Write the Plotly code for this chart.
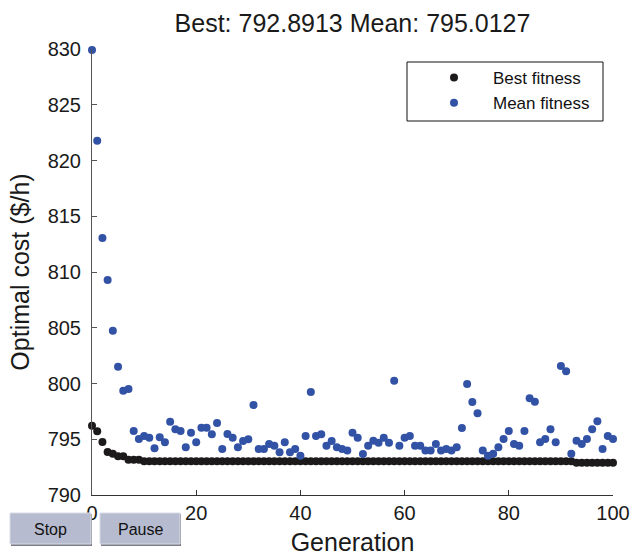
import plotly.graph_objects as go

generations = list(range(0, 101))

best_fitness = (
    [796.22, 795.71, 794.75, 793.86, 793.71, 793.47, 793.47, 793.17, 793.17, 793.17]
    + [793.02] * 83
    + [792.8913] * 8
)

mean_fitness = [
    829.9, 821.78, 813.05, 809.28, 804.74, 801.5, 799.36, 799.5, 795.74, 795.02,
    795.29, 795.14, 794.19, 795.17, 794.72, 796.57, 795.89, 795.74, 794.28, 795.59,
    794.72, 796.04, 796.04, 795.44, 796.46, 794.13, 795.47, 795.14, 794.28, 794.84,
    794.99, 798.07, 794.13, 794.13, 794.57, 794.42, 793.83, 794.72, 793.83, 794.13,
    793.53, 795.29, 799.24, 795.29, 795.44, 794.42, 794.84, 794.28, 794.13, 793.98,
    795.59, 795.14, 793.68, 794.42, 794.87, 794.69, 795.14, 794.69, 800.25, 794.42,
    795.14, 795.29, 794.42, 794.42, 793.98, 793.98, 794.57, 793.98, 794.13, 793.98,
    794.28, 796.01, 799.96, 798.34, 797.33, 793.98, 793.53, 793.71, 794.28, 795.02,
    795.74, 794.57, 794.42, 795.74, 798.67, 798.37, 794.72, 795.02, 795.89, 794.72,
    801.57, 801.09, 793.71, 794.87, 794.57, 795.02, 795.89, 796.61, 794.13, 795.29,
    795.0127,
]

title_text = "Best: 792.8913 Mean: 795.0127"
x_ticks = [0, 20, 40, 60, 80, 100]
y_ticks = [790, 795, 800, 805, 810, 815, 820, 825, 830]

FONT = "Liberation Sans, Arial, Helvetica, sans-serif"
TXT = "#1a1a1a"

W, H = 632, 556
# plot area in page pixels
PL, PR, PT, PB = 92, 613, 49, 495
L, T, R, B = PL, PT, W - PR, H - PB
pw, ph = W - L - R, H - T - B


def px_x(p):
    return (p - PL) / pw


def px_y(p):
    return (PB - p) / ph


fig = go.Figure()
fig.add_trace(go.Scatter(
    x=generations, y=best_fitness, mode="markers", name="Best fitness",
    legendgroup="best",
    marker=dict(color="#1c1a1a", size=8), cliponaxis=False,
))
fig.add_trace(go.Scatter(
    x=generations, y=mean_fitness, mode="markers", name="Mean fitness",
    legendgroup="mean",
    marker=dict(color="#3252a6", size=8), cliponaxis=False,
))

shapes = []
annotations = []

# legend frame
shapes.append(dict(
    type="rect", xref="paper", yref="paper",
    x0=px_x(407), x1=px_x(603), y0=px_y(121), y1=px_y(62),
    fillcolor="white", line=dict(color="#111111", width=1), layer="below",
))

# Stop / Pause buttons (GUI decoration)
buttons = [("Stop", 10, 91), ("Pause", 100, 180)]
for label, x0, x1 in buttons:
    shapes.append(dict(
        type="rect", xref="paper", yref="paper",
        x0=px_x(x0 + 1), x1=px_x(x1 + 1), y0=px_y(546), y1=px_y(514),
        fillcolor="#7c7e88", line=dict(width=0), layer="above",
    ))
    shapes.append(dict(
        type="rect", xref="paper", yref="paper",
        x0=px_x(x0), x1=px_x(x1), y0=px_y(544), y1=px_y(513),
        fillcolor="#b7bbcf", line=dict(color="#d8dae4", width=1), layer="above",
    ))
    annotations.append(dict(
        text=label, xref="paper", yref="paper",
        x=px_x((x0 + x1) / 2), y=px_y(529), showarrow=False,
        font=dict(family=FONT, size=16, color="#111111"),
        xanchor="center", yanchor="middle",
    ))

fig.update_layout(
    width=W, height=H,
    margin=dict(l=L, r=R, t=T, b=B, pad=0, autoexpand=False),
    paper_bgcolor="white", plot_bgcolor="white",
    font=dict(family=FONT, color=TXT),
    title=dict(text=title_text, x=(PL + PR) / 2 / W,
               xanchor="center",
               y=1 - 23 / H, yanchor="middle",
               font=dict(size=25, family=FONT, color=TXT)),
    showlegend=True,
    legend=dict(
        x=px_x(415), xanchor="left", y=px_y(60), yanchor="top",
        borderwidth=0, bgcolor="rgba(0,0,0,0)",
        font=dict(size=17, family=FONT, color="#111111"),
        itemwidth=68, tracegroupgap=0,
    ),
    shapes=shapes,
    annotations=annotations,
)

fig.update_xaxes(
    range=[0, 100], tickvals=x_ticks, ticks="inside", ticklen=5,
    showline=True, linecolor="#333333", linewidth=1, tickcolor="#333333",
    showgrid=False, zeroline=False, mirror=False, automargin=False,
    ticklabeloverflow="allow",
    tickfont=dict(size=20, family=FONT, color=TXT),
    ticklabelstandoff=0,
    title=dict(text="Generation", font=dict(size=25, family=FONT, color=TXT),
               standoff=10),
)
fig.update_yaxes(
    range=[790, 830], tickvals=y_ticks, ticks="inside", ticklen=5,
    showline=True, linecolor="#555555", linewidth=1, tickcolor="#555555",
    showgrid=False, zeroline=False, mirror=False, automargin=False,
    ticklabeloverflow="allow",
    tickfont=dict(size=20, family=FONT, color=TXT),
    ticklabelstandoff=6,
    title=dict(text="Optimal cost ($/h)", font=dict(size=25, family=FONT, color=TXT),
               standoff=10),
)

fig.write_html(
    "out.html",
    config={"displayModeBar": False},
    post_script="document.body.style.margin='0';document.body.style.overflow='hidden';",
)
